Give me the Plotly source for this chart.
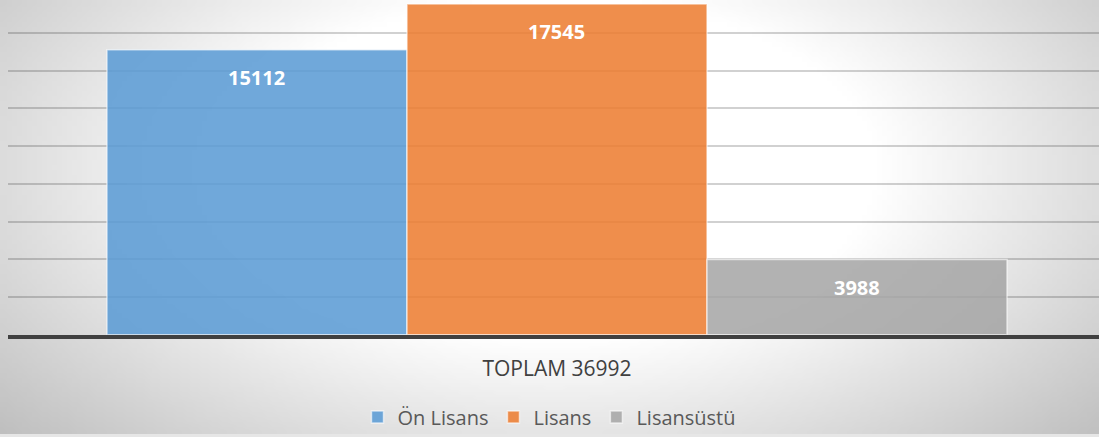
import base64
import struct
import zlib

import numpy as np
import plotly.graph_objects as go

# ---- data ----
category = ["TOPLAM 36992"]
series_names = ["Ön Lisans", "Lisans", "Lisansüstü"]
series_values = [15112, 17545, 3988]
series_colors = ["rgba(91,155,213,0.87)", "rgba(237,125,49,0.87)", "rgba(165,165,165,0.85)"]

W, H = 1099, 437
FONT = "Open Sans"


def gradient_png(w=220, h=88):
    xs = (np.arange(w) + 0.5) * W / w
    ys = (np.arange(h) + 0.5) * H / h
    X, Y = np.meshgrid(xs, ys)
    t = np.sqrt(((X - 555) / 560) ** 2 + ((Y - 170) / 300) ** 2)
    v = 255 - 85 * np.clip(t - 0.58, 0, None)
    v = np.clip(v, 190, 255).astype(np.uint8)
    raw = b"".join(b"\x00" + row.tobytes() for row in v)

    def chunk(tag, data):
        c = struct.pack(">I", len(data)) + tag + data
        return c + struct.pack(">I", zlib.crc32(tag + data) & 0xFFFFFFFF)

    png = b"\x89PNG\r\n\x1a\n"
    png += chunk(b"IHDR", struct.pack(">IIBBBBB", w, h, 8, 0, 0, 0, 0))
    png += chunk(b"IDAT", zlib.compress(raw, 9))
    png += chunk(b"IEND", b"")
    return "data:image/png;base64," + base64.b64encode(png).decode()


bargap = 0.175
bar_w = (1 - bargap) / len(series_values)

fig = go.Figure()
for name, val, col in zip(series_names, series_values, series_colors):
    fig.add_trace(go.Bar(
        x=category, y=[val], name=name,
        marker=dict(color=col, line=dict(color="rgba(255,255,255,0.6)", width=1.5)),
        hoverinfo="skip",
    ))

annotations = []
for i, val in enumerate(series_values):
    annotations.append(dict(
        x=(i - 1) * bar_w, y=val, xref="x", yref="y",
        text=f"<b>{val}</b>", showarrow=False, yshift=-28,
        font=dict(family=FONT, size=20, color="white"),
    ))

plot_bottom = 337
ymax = series_values[1] * plot_bottom / (plot_bottom - 4)

fig.update_layout(
    width=W, height=H,
    margin=dict(l=0, r=0, t=0, b=0),
    paper_bgcolor="#E6E6E6",
    plot_bgcolor="rgba(0,0,0,0)",
    barmode="group", bargap=bargap, bargroupgap=0,
    font=dict(family=FONT, color="#595959"),
    images=[dict(source=gradient_png(), xref="paper", yref="paper", x=0, y=1,
                 sizex=1, sizey=1, xanchor="left", yanchor="top",
                 sizing="stretch", layer="below")],
    xaxis=dict(
        domain=[8 / W, 1], range=[-0.5032, 0.4968],
        showline=True, linecolor="#404040", linewidth=4,
        ticks="", showgrid=False, zeroline=False,
        tickfont=dict(family=FONT, size=21, color="#404040"),
        ticklabelstandoff=12,
    ),
    yaxis=dict(
        domain=[(H - plot_bottom) / H, 1], range=[0, ymax],
        dtick=2000, showgrid=True, gridcolor="rgba(0,0,0,0.18)", gridwidth=1.5,
        showticklabels=False, zeroline=False, showline=False, ticks="",
    ),
    legend=dict(
        orientation="h", x=0.5, xanchor="center", y=1 - 420 / H, yanchor="middle",
        font=dict(family=FONT, size=20, color="#595959"),
        bgcolor="rgba(0,0,0,0)",
    ),
    annotations=annotations,
)

fig.write_html("out.html", config={"displayModeBar": False},
               post_script="document.body.style.margin='0';")
